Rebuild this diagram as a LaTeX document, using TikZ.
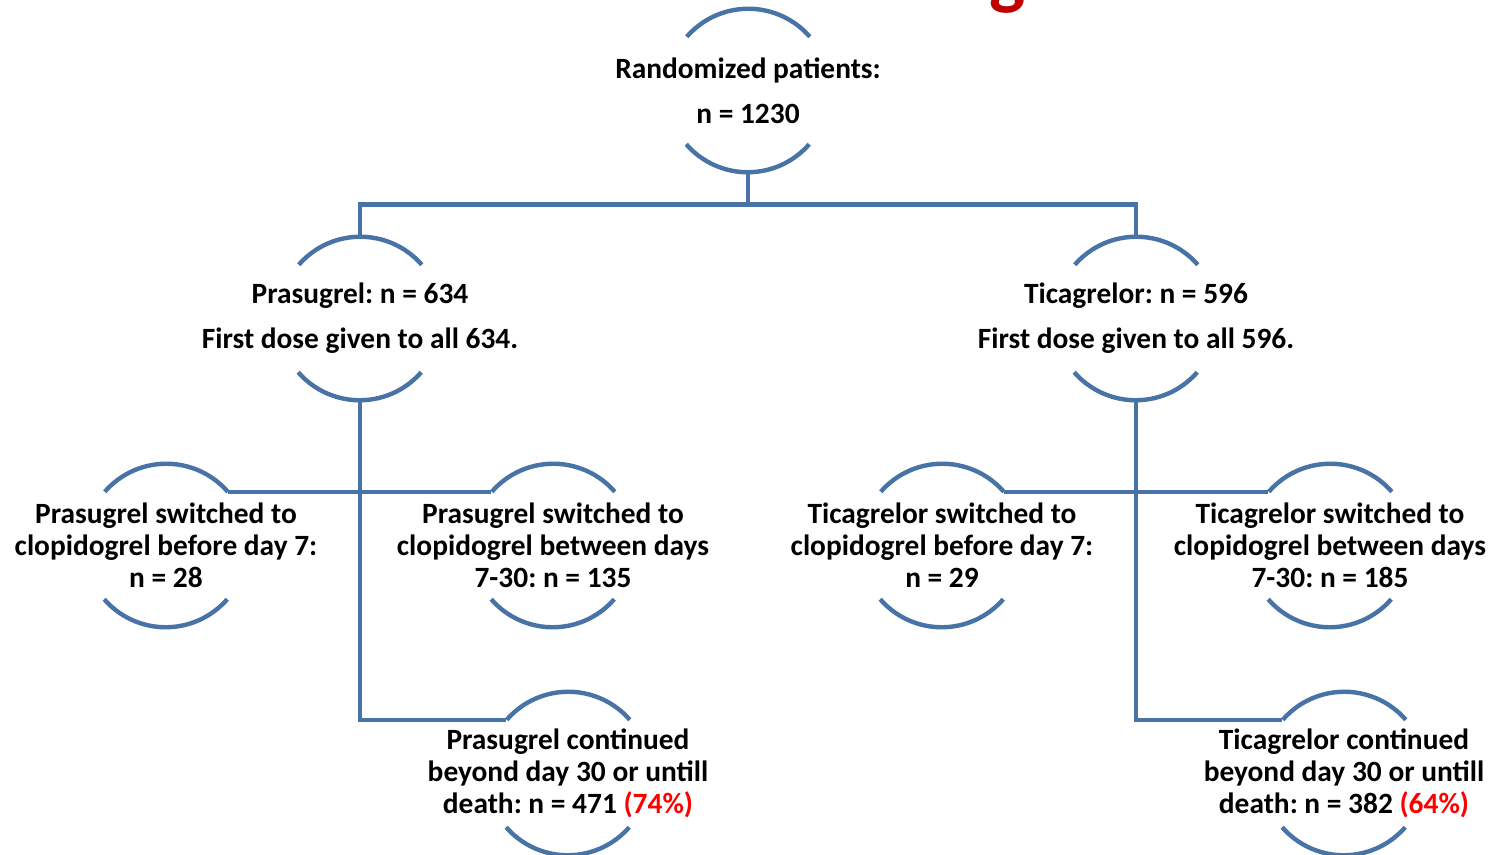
\documentclass[tikz,border=0pt]{standalone}
\usepackage{fontspec}
\setmainfont{Carlito}
\frenchspacing
\definecolor{lineblue}{RGB}{72,115,166}
\definecolor{pctred}{RGB}{255,0,0}
\definecolor{titlered}{RGB}{192,0,0}
\begin{document}
\begin{tikzpicture}[x=0.5pt,y=0.5pt,
  ring/.style={circle,minimum size=81.5pt,inner sep=0pt,draw=none},
  wide/.style={align=center,font=\fontsize{14.7}{22.5}\selectfont\bfseries,inner sep=0pt},
  narrow/.style={align=center,font=\fontsize{14.7}{16}\selectfont\bfseries,inner sep=0pt},
  blueline/.style={draw=lineblue,line width=2.2pt}]
\useasboundingbox (0,0) rectangle (1493,-855);
\clip (0,0) rectangle (1493,-855);
% cut-off title fragment
\node[text=titlered,font=\fontsize{38}{38}\selectfont\bfseries,anchor=base,inner sep=0pt] (title) at (1008,-1) {g};
% ring nodes
\node[ring] (top)  at (748,-90.5) {};
\node[ring] (pras) at (360,-318.5) {};
\node[ring] (tica) at (1136,-318.5) {};
\node[ring] (psw7) at (166,-545.5) {};
\node[ring] (pswb) at (553,-545.5) {};
\node[ring] (tsw7) at (942,-545.5) {};
\node[ring] (tswb) at (1330,-545.5) {};
\node[ring] (pcon) at (568,-773.5) {};
\node[ring] (tcon) at (1344,-773.5) {};
\foreach \n in {top,pras,tica,psw7,pswb,tsw7,tswb,pcon,tcon}{
  \draw[blueline] (\n.41) arc[start angle=41,end angle=139,radius=40.75pt];
  \draw[blueline] (\n.221) arc[start angle=221,end angle=319,radius=40.75pt];
}
% texts
\node[wide] (topt) at (top) {Randomized patients:\\n = 1230};
\node[wide] (prast) at (pras) {Prasugrel: n = 634\\First dose given to all 634.};
\node[wide] (ticat) at (tica) {Ticagrelor: n = 596\\First dose given to all 596.};
\node[narrow] (psw7t) at (psw7) {Prasugrel switched to\\clopidogrel before day 7:\\n = 28};
\node[narrow] (pswbt) at (pswb) {Prasugrel switched to\\clopidogrel between days\\7-30: n = 135};
\node[narrow] (tsw7t) at (tsw7) {Ticagrelor switched to\\clopidogrel before day 7:\\n = 29};
\node[narrow] (tswbt) at (tswb) {Ticagrelor switched to\\clopidogrel between days\\7-30: n = 185};
\node[narrow] (pcont) at (pcon) {Prasugrel continued\\beyond day 30 or untill\\death: n = 471 \textcolor{pctred}{(74\%)}};
\node[narrow] (tcont) at (tcon) {Ticagrelor continued\\beyond day 30 or untill\\death: n = 382 \textcolor{pctred}{(64\%)}};
% connectors
\draw[blueline] (top.south) -- ++(0,-32) coordinate (split) -| (pras.north);
\draw[blueline] (split) -| (tica.north);
\draw[blueline] (pras.south) |- (pcon.139);
\draw[blueline] (psw7.41) -- (pswb.139);
\draw[blueline] (tica.south) |- (tcon.139);
\draw[blueline] (tsw7.41) -- (tswb.139);
\end{tikzpicture}
\end{document}
